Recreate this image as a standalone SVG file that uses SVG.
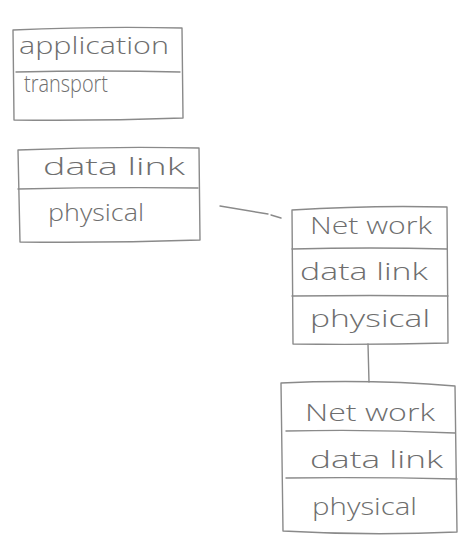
<svg xmlns="http://www.w3.org/2000/svg" width="460" height="538" viewBox="0 0 460 538">
<style>
.b{fill:none;stroke:#8a8a8a;stroke-width:1.4;stroke-linecap:round;stroke-linejoin:round}
.t{font-family:"Open Sans","DejaVu Sans",sans-serif;font-weight:300;fill:#6e6e6e;font-size:23px}
</style>
<rect width="460" height="538" fill="#ffffff"/>
<g id="connectors">
<path class="b" d="M220 206 L268 214 M271 215 L281 218"/>
<path class="b" d="M368 344 L369 382"/>
</g>
<g id="stack1">
<path class="b" d="M13 30 Q100 26 182 28 L183 118 Q100 121 14 120 Z"/>
<path class="b" d="M16 72 Q100 70 180 72"/>
<text class="t" x="19" y="54" textLength="150" lengthAdjust="spacingAndGlyphs">application</text>
<text class="t" x="24" y="92" textLength="84" lengthAdjust="spacingAndGlyphs">transport</text>
</g>
<g id="stack2">
<path class="b" d="M18 150 Q110 146 199 148 L200 240 Q110 243 20 242 Z"/>
<path class="b" d="M18 189 Q110 187 198 188"/>
<text class="t" x="43" y="175" textLength="142" lengthAdjust="spacingAndGlyphs">data link</text>
<text class="t" x="48" y="221" textLength="96" lengthAdjust="spacingAndGlyphs">physical</text>
</g>
<g id="stack3">
<path class="b" d="M292 210 Q370 205 447 207 L448 343 Q370 345 293 344 Z"/>
<path class="b" d="M292 249 Q370 247 447 249"/>
<path class="b" d="M292 296 Q370 295 448 296"/>
<text class="t" x="310" y="234" textLength="122" lengthAdjust="spacingAndGlyphs">Net work</text>
<text class="t" x="300" y="280" textLength="128" lengthAdjust="spacingAndGlyphs">data link</text>
<text class="t" x="310" y="327" textLength="120" lengthAdjust="spacingAndGlyphs">physical</text>
</g>
<g id="stack4">
<path class="b" d="M281 383 Q370 379 455 386 L457 532 Q370 536 283 531 Z"/>
<path class="b" d="M286 431 Q370 429 455 433"/>
<path class="b" d="M286 478 Q370 477 457 479"/>
<text class="t" x="305" y="421" textLength="130" lengthAdjust="spacingAndGlyphs">Net work</text>
<text class="t" x="310" y="468" textLength="133" lengthAdjust="spacingAndGlyphs">data link</text>
<text class="t" x="312" y="515" textLength="105" lengthAdjust="spacingAndGlyphs">physical</text>
</g>
</svg>
